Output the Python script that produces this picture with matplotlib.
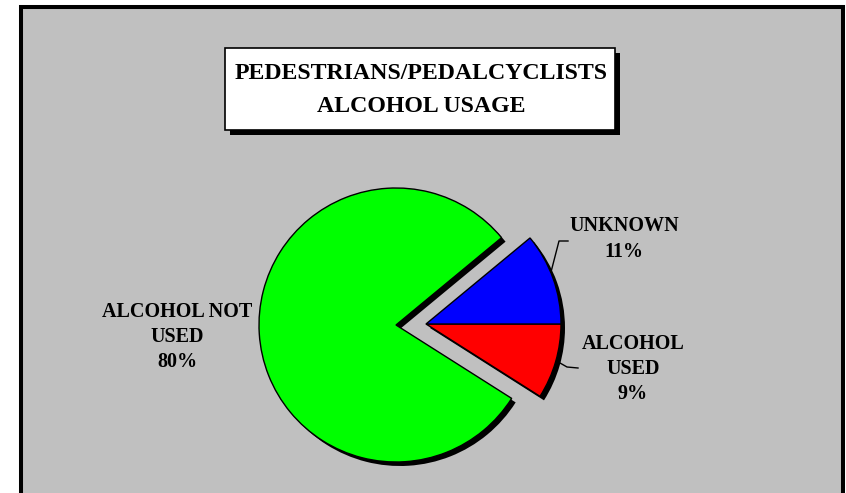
import matplotlib
matplotlib.use("Agg")
import matplotlib.pyplot as plt
from matplotlib.patches import Rectangle

# donnees du graphique
categories = ["ALCOHOL\nUSED", "UNKNOWN", "ALCOHOL NOT\nUSED"]
pourcentages = [9, 11, 80]
couleurs = ["#FF0000", "#0000FF", "#00FF00"]
titre = "PEDESTRIANS/PEDALCYCLISTS\nALCOHOL USAGE"

W, H = 846, 493
GRIS = "#C0C0C0"
POLICE = "Liberation Serif"


def Y(y):
    """Convertit une ordonnee pixel (haut -> bas) en coordonnee du graphique."""
    return H - y


fig = plt.figure(figsize=(W / 100, H / 100), dpi=100)
fig.patch.set_facecolor("white")
ax = fig.add_axes([0, 0, 1, 1])

# cadre gris
ax.add_patch(Rectangle((21, -20), 822, Y(7) + 20, facecolor=GRIS,
                       edgecolor="black", linewidth=2.9, zorder=0,
                       clip_on=False))

# camembert : ombre puis secteurs
cx, cy, r = 396, Y(325), 137
decalage = 30
debut = -32.4  # le secteur rouge se termine a l'horizontale

ombres, _ = ax.pie(pourcentages, startangle=debut, radius=r,
                   center=(cx + 4, cy - 4), colors=["black"] * 3,
                   wedgeprops=dict(linewidth=0))
secteurs, _ = ax.pie(pourcentages, startangle=debut, radius=r,
                     center=(cx, cy), colors=couleurs,
                     wedgeprops=dict(edgecolor="black", linewidth=1.0))
for w in ombres:
    w.set_zorder(1)
for w in secteurs:
    w.set_zorder(2)
# les deux petits secteurs sont detaches ensemble vers la droite
for i in (0, 1):
    secteurs[i].set_center((cx + decalage, cy + 1))
    secteurs[i].set_radius(r - 2)
    ombres[i].set_center((cx + decalage + 4, cy - 3))
    ombres[i].set_radius(r - 2)

# etiquettes
style = dict(fontfamily=POLICE, fontweight="bold", fontsize=14.5,
             ha="center", va="center", linespacing=1.36, zorder=5)
ax.text(177, Y(337), f"{categories[2]}\n{pourcentages[2]}%", **style)
ax.text(624, Y(239), f"{categories[1]}\n{pourcentages[1]}%", **style)
ax.text(633, Y(369), f"{categories[0]}\n{pourcentages[0]}%", **style)

# traits de rappel
ax.plot([551, 559, 568], [Y(272), Y(241), Y(241)], color="black",
        linewidth=1.0, zorder=4)
ax.plot([560, 567, 578], [Y(363), Y(367), Y(368)], color="black",
        linewidth=1.0, zorder=4)

# titre dans un cadre blanc avec ombre
ax.add_patch(Rectangle((230, Y(135)), 390, 82, facecolor="black",
                       edgecolor="none", zorder=3))
ax.add_patch(Rectangle((225, Y(130)), 390, 82, facecolor="white",
                       edgecolor="black", linewidth=1.2, zorder=4))
ax.text(421, Y(90), titre, fontfamily=POLICE, fontweight="bold",
        fontsize=17.2, ha="center", va="center", linespacing=1.74, zorder=5)

ax.set_xlim(0, W)
ax.set_ylim(0, H)
ax.set_aspect("auto")
ax.axis("off")

fig.savefig("out.png", dpi=100, facecolor="white")
